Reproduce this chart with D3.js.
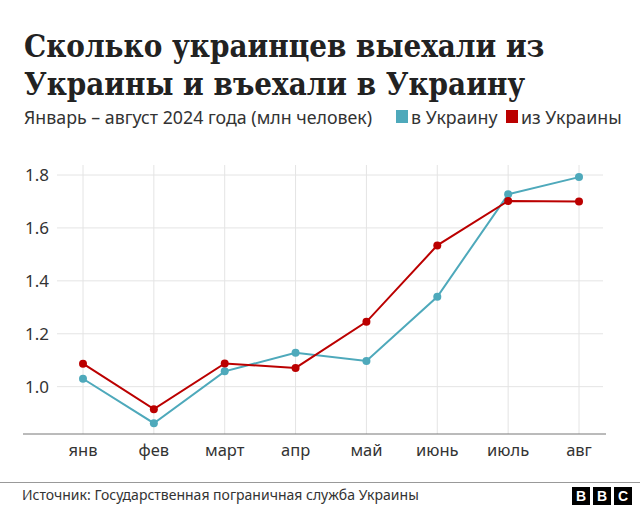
<!DOCTYPE html>
<html>
<head>
<meta charset="utf-8">
<script src="https://cdn.jsdelivr.net/npm/d3@7"></script>
<style>
  body { margin: 0; background: #fff; }
  svg { display: block; }
</style>
</head>
<body>
<svg width="640" height="517"></svg>
<script>
// данные
const months = ["янв", "фев", "март", "апр", "май", "июнь", "июль", "авг"];
const inUkraine = [1.03, 0.862, 1.058, 1.128, 1.097, 1.34, 1.727, 1.792];
const outUkraine = [1.087, 0.915, 1.088, 1.071, 1.245, 1.534, 1.702, 1.70];
const yTicks = [1.0, 1.2, 1.4, 1.6, 1.8];

const blue = "#4ea9bb";
const red = "#bb0000";

const svg = d3.select("svg");

// заголовок
const title = svg.append("text")
    .style("font-family", "'DejaVu Serif Condensed', 'DejaVu Serif', serif")
    .style("font-weight", "bold")
    .style("font-size", "31px")
    .attr("fill", "#222");
title.append("tspan").attr("x", 24).attr("y", 57).text("Сколько украинцев выехали из");
title.append("tspan").attr("x", 24).attr("y", 95).text("Украины и въехали в Украину");

svg.append("text")
    .attr("x", 24).attr("y", 124)
    .style("font-family", "'Noto Sans', sans-serif")
    .style("font-size", "17.8px")
    .attr("fill", "#333")
    .text("Январь – август 2024 года (млн человек)");

// легенда
const legend = [["в Украину", blue, 396], ["из Украины", red, 506]];
legend.forEach(([name, col, lx]) => {
    svg.append("rect").attr("x", lx).attr("y", 110).attr("width", 12).attr("height", 13).attr("fill", col);
    svg.append("text")
        .attr("x", lx + 15).attr("y", 124)
        .style("font-family", "'Noto Sans', sans-serif")
        .style("font-size", "17.8px")
        .attr("fill", "#333")
        .text(name);
});

// шкалы
const x = d3.scalePoint().domain(months).range([83, 579]);
const y = d3.scaleLinear().domain([0.8, 1.8]).range([439.6, 175]);

// сетка
svg.selectAll(".hgrid")
    .data(yTicks)
    .enter()
    .append("line")
    .attr("x1", 57).attr("x2", 603)
    .attr("y1", d => y(d)).attr("y2", d => y(d))
    .attr("stroke", "#e4e4e4").attr("stroke-width", 1);

svg.selectAll(".vgrid")
    .data(months)
    .enter()
    .append("line")
    .attr("x1", d => x(d)).attr("x2", d => x(d))
    .attr("y1", 165).attr("y2", 434)
    .attr("stroke", "#e4e4e4").attr("stroke-width", 1);

// подписи оси Y
svg.selectAll(".ylab")
    .data(yTicks)
    .enter()
    .append("text")
    .attr("x", 25).attr("y", d => y(d) + 6)
    .style("font-family", "'Noto Sans', sans-serif")
    .style("font-size", "17px")
    .attr("fill", "#333")
    .text(d => d.toFixed(1));

// ось X
svg.append("line")
    .attr("x1", 23).attr("x2", 606)
    .attr("y1", 434).attr("y2", 434)
    .attr("stroke", "#777").attr("stroke-width", 1);

svg.selectAll(".xlab")
    .data(months)
    .enter()
    .append("text")
    .attr("x", d => x(d)).attr("y", 456)
    .attr("text-anchor", "middle")
    .style("font-family", "'Noto Sans', sans-serif")
    .style("font-size", "16.5px")
    .attr("fill", "#333")
    .text(d => d);

// линии
const line = d3.line().x((d, i) => x(months[i])).y(d => y(d));

[[inUkraine, blue], [outUkraine, red]].forEach(([vals, col]) => {
    svg.append("path")
        .datum(vals)
        .attr("d", line)
        .attr("fill", "none")
        .attr("stroke", col)
        .attr("stroke-width", 2);
    svg.selectAll(null)
        .data(vals)
        .enter()
        .append("circle")
        .attr("cx", (d, i) => x(months[i]))
        .attr("cy", d => y(d))
        .attr("r", 4)
        .attr("fill", col);
});

// подвал
svg.append("line")
    .attr("x1", 0).attr("x2", 640)
    .attr("y1", 482.5).attr("y2", 482.5)
    .attr("stroke", "#999").attr("stroke-width", 1);

svg.append("text")
    .attr("x", 22).attr("y", 500)
    .style("font-family", "'Noto Sans', sans-serif")
    .style("font-size", "14px")
    .attr("fill", "#333")
    .text("Источник: Государственная пограничная служба Украины");

["B", "B", "C"].forEach((ch, i) => {
    const bx = 572 + i * 21;
    svg.append("rect").attr("x", bx).attr("y", 487).attr("width", 18).attr("height", 18).attr("fill", "#000");
    svg.append("text")
        .attr("x", bx + 9).attr("y", 501)
        .attr("text-anchor", "middle")
        .style("font-family", "'Liberation Sans', Arial, sans-serif")
        .style("font-weight", "bold")
        .style("font-size", "14px")
        .attr("fill", "#fff")
        .text(ch);
});
</script>
</body>
</html>
